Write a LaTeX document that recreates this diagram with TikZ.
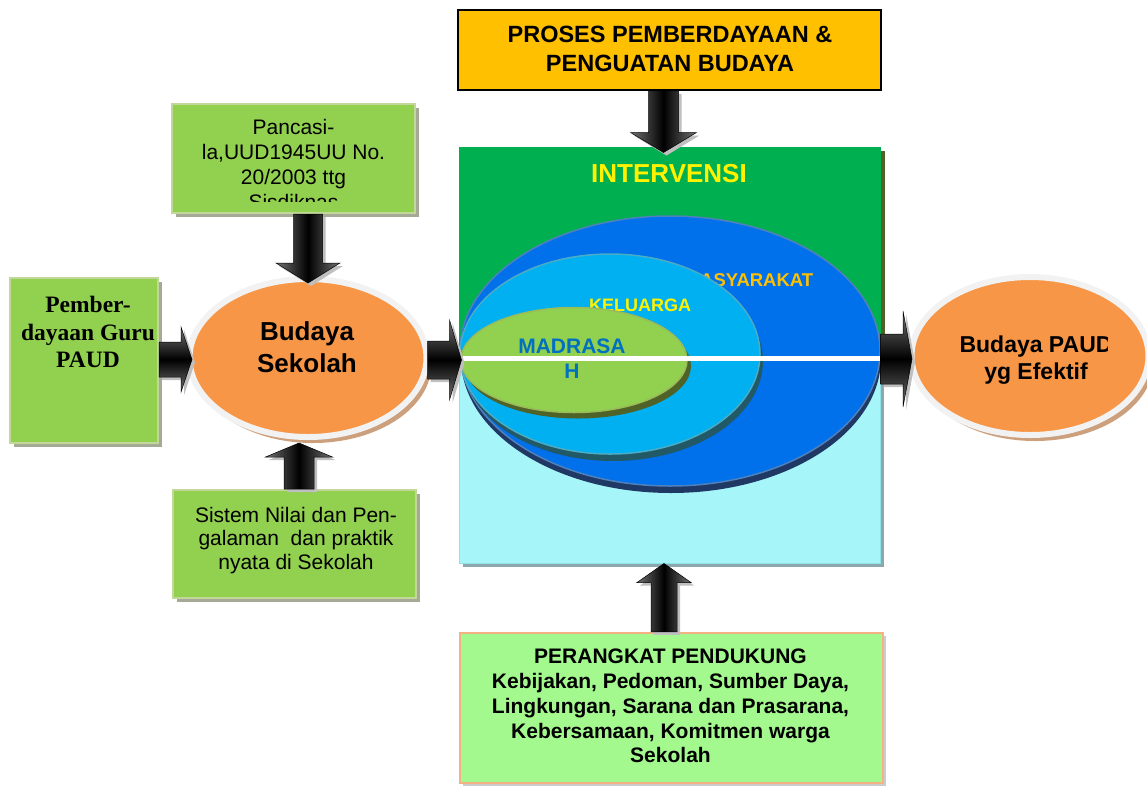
\documentclass[tikz,border=0pt]{standalone}
\usepackage{fontspec}
\setmainfont{Liberation Sans}
\newfontfamily\serifbf{Liberation Serif}
\usetikzlibrary{calc,shapes.geometric,shadows}

\definecolor{boxgreen}{RGB}{146,208,80}
\definecolor{boxgreenborder}{RGB}{196,215,155}
\definecolor{boxshadow}{RGB}{165,170,150}
\definecolor{gold}{RGB}{255,192,0}
\definecolor{panelgreen}{RGB}{0,176,80}
\definecolor{panelcyan}{RGB}{166,245,249}
\definecolor{cyanshadow}{RGB}{140,168,174}
\definecolor{oliveshadow}{RGB}{79,98,40}
\definecolor{masyblue}{RGB}{0,112,235}
\definecolor{masyborder}{RGB}{79,129,189}
\definecolor{navyshadow}{RGB}{31,56,100}
\definecolor{kelblue}{RGB}{0,176,240}
\definecolor{kelborder}{RGB}{75,172,198}
\definecolor{tealshadow}{RGB}{33,89,103}
\definecolor{madborder}{RGB}{155,187,89}
\definecolor{madtext}{RGB}{0,112,192}
\definecolor{orangefill}{RGB}{247,150,70}
\definecolor{rimcol}{RGB}{242,242,242}
\definecolor{tanshadow}{RGB}{205,160,125}
\definecolor{lightgreen}{RGB}{163,249,142}
\definecolor{peach}{RGB}{244,177,131}

% block arrow from #1 to #2: half shaft #3, half head #4, head length #5, style #6
\newcommand\blockarrow[6]{%
  \coordinate (ba-s) at (#1);
  \coordinate (ba-e) at (#2);
  \coordinate (ba-h) at ($(ba-e)!#5!(ba-s)$);
  \fill[black!25, transform canvas={shift={(3pt,-3pt)}}]
    ($(ba-s)!#3!90:(ba-e)$) -- ($(ba-h)!#3!90:(ba-e)$) -- ($(ba-h)!#4!90:(ba-e)$) --
    (ba-e) -- ($(ba-h)!#4!-90:(ba-e)$) -- ($(ba-h)!#3!-90:(ba-e)$) --
    ($(ba-s)!#3!-90:(ba-e)$) -- cycle;
  \shadedraw[#6]
    ($(ba-s)!#3!90:(ba-e)$) -- ($(ba-h)!#3!90:(ba-e)$) -- ($(ba-h)!#4!90:(ba-e)$) --
    (ba-e) -- ($(ba-h)!#4!-90:(ba-e)$) -- ($(ba-h)!#3!-90:(ba-e)$) --
    ($(ba-s)!#3!-90:(ba-e)$) -- cycle;
}

\begin{document}
\begin{tikzpicture}[x=1pt,y=-1pt,
  greenbox/.style={rectangle, fill=boxgreen, draw=boxgreenborder, line width=2, inner sep=0,
    drop shadow={shadow xshift=4pt, shadow yshift=-4pt, fill=boxshadow, opacity=1}},
  topbox/.style={rectangle, fill=gold, draw=black, line width=1.5, inner sep=0},
  bottombox/.style={rectangle, fill=lightgreen, draw=peach, line width=2.5, inner sep=0,
    drop shadow={shadow xshift=3pt, shadow yshift=-3pt, fill=black!20, opacity=1}},
  orangeoval/.style={ellipse, fill=orangefill, draw=rimcol, line width=6, inner sep=0,
    minimum width=237, minimum height=158,
    drop shadow={shadow xshift=5pt, shadow yshift=-6pt, fill=tanshadow, opacity=1}},
  txt/.style={inner sep=0, align=center},
  hshade/.style={top color=black!55, bottom color=black!55, middle color=black, draw=black, line width=0.5},
  vshade/.style={left color=black!55, right color=black!55, middle color=black, draw=black, line width=0.5},
]
\useasboundingbox (0,0) rectangle (1147,785);
\begin{scope}
\clip (0,0) rectangle (1147,785);

% central panel
\node[rectangle, minimum width=421, minimum height=416, inner sep=0, fill=panelcyan,
  draw=panelcyan!85!teal, line width=1,
  drop shadow={shadow xshift=4pt, shadow yshift=-4pt, fill=cyanshadow, opacity=1}] (panel) at (669.5,355) {};
\fill[panelgreen] (panel.north west) rectangle ($(panel.east)+(0,3)$);
\fill[oliveshadow] ($(panel.north east)+(0,4)$) rectangle ($(panel.east)+(4,3)$);
\node[txt, anchor=north, text=yellow, font=\bfseries\fontsize{26}{30}\selectfont] (intervensi) at (669,164) {INTERVENSI};

% nested ovals
\node[ellipse, inner sep=0, minimum width=420, minimum height=270, fill=masyblue, draw=masyborder, line width=1.5,
  drop shadow={shadow xshift=1pt, shadow yshift=-7pt, fill=navyshadow, opacity=1}] (masy) at (670,351) {};
\node[txt, anchor=base, text=gold, font=\bfseries\fontsize{18.5}{22}\selectfont] (masytext) at (749,286) {MASYARAKAT};
\node[ellipse, inner sep=0, minimum width=300, minimum height=200, fill=kelblue, draw=kelborder, line width=1.5,
  drop shadow={shadow xshift=3pt, shadow yshift=-7pt, fill=tealshadow, opacity=1}] (kel) at (610,354) {};
\node[txt, anchor=base, text=yellow, font=\bfseries\fontsize{18}{22}\selectfont] (keltext) at (640,311) {KELUARGA};
\node[ellipse, inner sep=0, minimum width=226, minimum height=105, fill=boxgreen, draw=madborder, line width=1.5,
  drop shadow={shadow xshift=4pt, shadow yshift=-6pt, fill=oliveshadow, opacity=1}] (mad) at (574,360) {};
\node[txt, anchor=north, text=madtext, font=\bfseries\fontsize{21}{25}\selectfont] (madtext) at (572,339) {MADRASA\\H};
\draw[white, line width=5] ($(panel.west)+(4,3)$) -- ($(panel.east)+(0,3)$);

% top and bottom boxes
\node[topbox, minimum width=423, minimum height=80] (proses) at (669.5,50) {};
\node[txt, anchor=north, font=\bfseries\fontsize{23.5}{28.5}\selectfont] (prosestext) at (670,26)
  {PROSES PEMBERDAYAAN \&\\PENGUATAN BUDAYA};
\node[bottombox, minimum width=423, minimum height=150] (bottom) at (671.5,708) {};
\node[txt, anchor=north, font=\bfseries\fontsize{21}{24.75}\selectfont] (bottomtext) at (670.5,649)
  {PERANGKAT PENDUKUNG\\Kebijakan, Pedoman, Sumber Daya,\\Lingkungan, Sarana dan Prasarana,\\Kebersamaan, Komitmen warga\\Sekolah};

% left boxes
\node[greenbox, minimum width=243, minimum height=109] (panc) at (293.5,158.5) {};
\begin{scope}
\clip (150,100) rectangle (440,201);
\node[txt, anchor=north, font=\fontsize{21}{25}\selectfont] (panctext) at (293.5,119)
  {Pancasi-\\la,UUD1945UU No.\\20/2003 ttg\\Sisdiknas};
\end{scope}
\node[greenbox, minimum width=243, minimum height=108] (sistem) at (294.5,544) {};
\node[txt, anchor=north, font=\fontsize{21}{23.5}\selectfont] (sistemtext) at (296,507)
  {Sistem Nilai dan Pen-\\galaman\ \ dan praktik\\nyata di Sekolah};
\node[greenbox, minimum width=148, minimum height=165] (pemb) at (84,360.5) {};
\node[txt, anchor=north, font=\serifbf\bfseries\fontsize{23.5}{27.5}\selectfont] (pembtext) at (88,296)
  {Pember-\\dayaan Guru\\PAUD};

% orange ovals
\node[orangeoval] (bs) at (308,358) {};
\node[txt, anchor=north, font=\bfseries\fontsize{26}{32}\selectfont] (bstext) at (307,321) {Budaya\\Sekolah};
\node[orangeoval] (paud) at (1030,356) {};
\begin{scope}
\clip (900,300) rectangle (1107,420);
\node[txt, anchor=north, font=\bfseries\fontsize{23}{27}\selectfont] (paudtext) at (1036,336) {Budaya PAUD\\yg Efektif};
\end{scope}

% block arrows
\blockarrow{$(proses.south)+(-6,0)$}{$(panel.north)+(-6,6)$}{15pt}{33pt}{20pt}{vshade}
\blockarrow{$(panc.south -| bs.north)$}{$(bs.north)+(0,7)$}{14.5pt}{32pt}{20pt}{vshade}
\blockarrow{$(sistem.north)+(4.5,0)$}{$(bs.south)+(-9,3)$}{15pt}{33.5pt}{14pt}{vshade}
\blockarrow{$(pemb.east)+(0,-1)$}{$(bs.west)+(5.5,1.5)$}{17.5pt}{32.5pt}{11pt}{hshade}
\blockarrow{$(bs.east)+(-2,2)$}{$(panel.west)+(3,5)$}{19pt}{40pt}{12pt}{hshade}
\blockarrow{$(panel.east)+(0,4)$}{$(paud.west)+(3.5,3)$}{25pt}{48pt}{9pt}{hshade}
\blockarrow{$(bottom.north)+(-7.5,0)$}{$(panel.south)+(-5.5,0)$}{13pt}{27pt}{19pt}{vshade}
\end{scope}
\end{tikzpicture}
\end{document}
